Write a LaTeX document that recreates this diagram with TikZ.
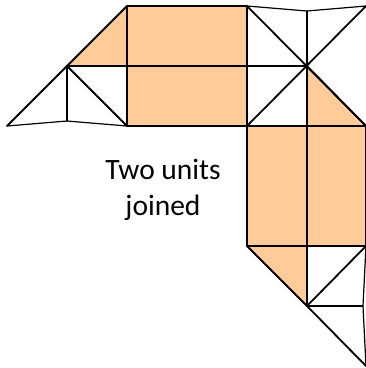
\documentclass[tikz,border=0pt]{standalone}
\usepackage{fontspec}
\setmainfont{Carlito}
\usepackage{xcolor}
\usetikzlibrary{positioning,calc}
\definecolor{unitfill}{HTML}{FFCC99}
\tikzset{
  foldline/.style={line width=1.8pt, line join=round, line cap=round},
  thinfold/.style={line width=1.2pt, line join=round, line cap=round},
  unitfold/.style={fill=unitfill, draw=none},
}

\begin{document}
\begin{tikzpicture}[x=1pt, y=-1pt]
  \useasboundingbox (0,0) rectangle (366,368);

  % Corner points of the folded units
  \coordinate (topA) at (127,6);
  \coordinate (topB) at (247,6);
  \coordinate (topC) at (307,11);
  \coordinate (topD) at (366,6);
  \coordinate (midA) at (67,66);
  \coordinate (midB) at (127,66);
  \coordinate (midC) at (247,66);
  \coordinate (midD) at (307,66);
  \coordinate (lowA) at (7,126);
  \coordinate (lowB) at (67,121);
  \coordinate (lowC) at (127,126);
  \coordinate (lowD) at (247,126);
  \coordinate (lowE) at (307,126);
  \coordinate (lowF) at (366,126);
  \coordinate (botA) at (247,246);
  \coordinate (botB) at (307,246);
  \coordinate (botC) at (366,246);
  \coordinate (tipA) at (307,306);
  \coordinate (tipB) at (363,306);
  \coordinate (tipC) at (366,366);

  % Coloured faces
  \fill[unitfold] (midA) -- (topA) -- (topB) -- (lowD) -- (lowC) -- (midB) -- cycle;
  \fill[unitfold] (midD) -- (lowF) -- (botC) -- (botB) -- (tipA) -- (botA) -- (lowD) -- (lowE) -- cycle;

  % Outer edges and main folds
  \draw[foldline] (lowA) -- (topA) -- (topB) -- (lowD) -- (botA) -- (tipA) -- (tipC);
  \draw[foldline] (topA) -- (lowC) -- (lowF) -- (midD);
  \draw[foldline] (midA) -- (midD);
  \draw[foldline] (midA) -- (lowC);
  \draw[foldline] (midA) -- (lowB);
  \draw[foldline] (topB) -- (lowF);
  \draw[foldline] (topD) -- (lowD);
  \draw[foldline] (midD) -- (tipA);
  \draw[foldline] (lowD) -- (lowF);
  \draw[foldline] (botA) -- (botC) -- (tipA);
  \draw[foldline] (lowF) -- (botC);

  % Shallow edges
  \draw[thinfold] (lowA) -- (lowB) -- (lowC);
  \draw[thinfold] (topB) -- (topC) -- (topD);
  \draw[thinfold] (topC) -- (midD);
  \draw[thinfold] (botC) -- (tipB) -- (tipC);
  \draw[thinfold] (tipA) -- (tipB);

  \node[align=center, font=\fontsize{29.5}{36}\selectfont] (caption) at (163,190) {Two units\\joined};
\end{tikzpicture}
\end{document}
